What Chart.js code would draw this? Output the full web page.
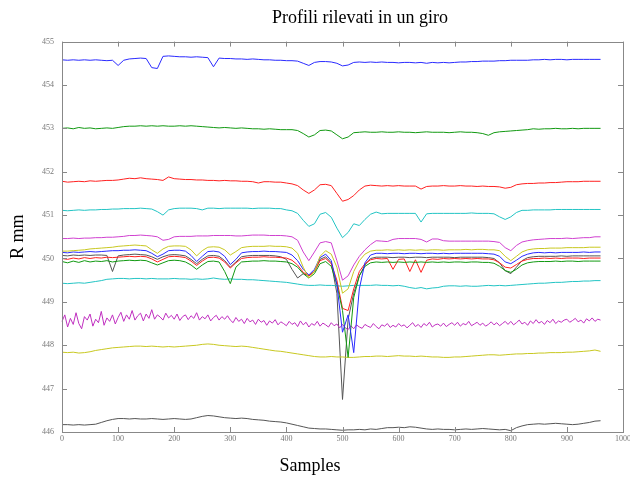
<!DOCTYPE html>
<html><head><meta charset="utf-8">
<script src="https://cdn.jsdelivr.net/npm/chart.js@4/dist/chart.umd.min.js"></script>
<style>html,body{margin:0;padding:0;background:#fff;}#wrap{width:630px;height:479px;}</style>
</head><body><div id="wrap"><canvas id="c" width="630" height="479"></canvas></div>
<script>
const samples = [0,10,20,30,40,50,60,70,80,90,100,110,120,130,140,150,160,170,180,190,200,210,220,230,240,250,260,270,280,290,300,310,320,330,340,350,360,370,380,390,400,410,420,430,440,450,460,470,480,490,500,510,520,530,540,550,560,570,580,590,600,610,620,630,640,650,660,670,680,690,700,710,720,730,740,750,760,770,780,790,800,810,820,830,840,850,860,870,880,890,900,910,920,930,940,950,960];

const samplesFine = [0,5,10,15,20,25,30,35,40,45,50,55,60,65,70,75,80,85,90,95,100,105,110,115,120,125,130,135,140,145,150,155,160,165,170,175,180,185,190,195,200,205,210,215,220,225,230,235,240,245,250,255,260,265,270,275,280,285,290,295,300,305,310,315,320,325,330,335,340,345,350,355,360,365,370,375,380,385,390,395,400,405,410,415,420,425,430,435,440,445,450,455,460,465,470,475,480,485,490,495,500,505,510,515,520,525,530,535,540,545,550,555,560,565,570,575,580,585,590,595,600,605,610,615,620,625,630,635,640,645,650,655,660,665,670,675,680,685,690,695,700,705,710,715,720,725,730,735,740,745,750,755,760,765,770,775,780,785,790,795,800,805,810,815,820,825,830,835,840,845,850,855,860,865,870,875,880,885,890,895,900,905,910,915,920,925,930,935,940,945,950,955,960];

const xTicks = [0,100,200,300,400,500,600,700,800,900,1000];
const yTicks = [446,447,448,449,450,451,452,453,454,455];

const blueTop = [454.58,454.57,454.58,454.57,454.58,454.57,454.58,454.57,454.56,454.57,454.45,454.57,454.60,454.61,454.62,454.61,454.40,454.38,454.66,454.67,454.66,454.65,454.65,454.64,454.65,454.64,454.63,454.42,454.62,454.61,454.61,454.60,454.60,454.59,454.60,454.59,454.58,454.58,454.57,454.57,454.56,454.56,454.55,454.50,454.45,454.52,454.54,454.54,454.53,454.50,454.44,454.46,454.52,454.53,454.52,454.53,454.52,454.53,454.52,454.52,454.51,454.52,454.52,454.51,454.52,454.50,454.52,454.51,454.52,454.51,454.52,454.53,454.53,454.54,454.54,454.55,454.55,454.55,454.56,454.56,454.57,454.57,454.57,454.57,454.58,454.58,454.59,454.58,454.59,454.59,454.58,454.59,454.59,454.59,454.59,454.59,454.59];

const greenTop = [453.00,453.01,452.99,453.02,453.00,453.01,452.99,453.00,453.01,453.00,453.02,453.04,453.05,453.05,453.06,453.05,453.06,453.05,453.06,453.05,453.05,453.06,453.05,453.06,453.05,453.04,453.03,453.02,453.01,453.02,453.01,453.00,453.01,453.00,452.99,452.99,452.98,452.99,452.98,452.97,452.97,452.97,452.95,452.88,452.80,452.85,452.95,452.96,452.94,452.85,452.76,452.80,452.90,452.91,452.92,452.91,452.91,452.92,452.91,452.91,452.92,452.91,452.91,452.90,452.91,452.92,452.91,452.91,452.91,452.90,452.91,452.92,452.91,452.91,452.90,452.88,452.84,452.90,452.92,452.93,452.94,452.95,452.96,452.97,452.99,452.98,452.99,452.99,453.00,452.99,452.99,453.00,452.99,453.00,453.00,453.00,453.00];

const redTop = [451.78,451.76,451.77,451.78,451.77,451.79,451.78,451.79,451.80,451.80,451.81,451.83,451.85,451.84,451.86,451.84,451.83,451.82,451.80,451.88,451.84,451.83,451.82,451.82,451.81,451.81,451.80,451.80,451.79,451.80,451.79,451.79,451.78,451.78,451.77,451.74,451.77,451.77,451.76,451.76,451.74,451.72,451.68,451.58,451.50,451.58,451.70,451.71,451.68,451.50,451.32,451.36,451.45,451.58,451.67,451.69,451.68,451.67,451.68,451.67,451.68,451.67,451.67,451.67,451.60,451.66,451.67,451.67,451.68,451.67,451.67,451.68,451.67,451.67,451.66,451.67,451.66,451.66,451.65,451.62,451.64,451.70,451.72,451.73,451.73,451.74,451.74,451.75,451.75,451.76,451.77,451.77,451.77,451.78,451.78,451.78,451.78];

const cyanTop = [451.11,451.10,451.11,451.12,451.11,451.12,451.12,451.13,451.13,451.14,451.14,451.15,451.15,451.15,451.16,451.15,451.14,451.08,451.00,451.12,451.15,451.16,451.16,451.16,451.15,451.12,451.16,451.16,451.15,451.16,451.16,451.16,451.16,451.16,451.15,451.16,451.16,451.16,451.15,451.15,451.12,451.10,451.04,450.88,450.74,450.80,451.02,451.06,450.95,450.70,450.48,450.60,450.80,450.76,450.90,451.02,451.07,451.03,451.04,451.04,451.04,451.04,451.04,451.04,450.84,451.03,451.04,451.04,451.04,451.04,451.04,451.04,451.04,451.05,451.04,451.04,451.04,451.03,450.96,450.90,450.96,451.06,451.11,451.11,451.12,451.12,451.12,451.12,451.13,451.13,451.13,451.13,451.13,451.13,451.13,451.13,451.13];

const magentaTop = [450.46,450.46,450.47,450.46,450.47,450.47,450.48,450.48,450.49,450.49,450.50,450.51,450.53,450.53,450.54,450.53,450.52,450.50,450.42,450.44,450.50,450.51,450.51,450.51,450.52,450.52,450.52,450.53,450.53,450.53,450.53,450.52,450.52,450.53,450.54,450.54,450.54,450.53,450.53,450.53,450.52,450.50,450.42,450.15,449.95,450.15,450.36,450.39,450.36,449.95,449.50,449.60,449.85,450.05,450.20,450.32,450.41,450.40,450.39,450.44,450.46,450.46,450.46,450.46,450.44,450.38,450.45,450.45,450.41,450.40,450.40,450.40,450.40,450.40,450.40,450.40,450.40,450.39,450.37,450.25,450.18,450.30,450.38,450.41,450.43,450.44,450.45,450.46,450.46,450.46,450.47,450.46,450.47,450.48,450.48,450.50,450.50];

const yellowMid = [450.17,450.17,450.18,450.19,450.20,450.22,450.23,450.24,450.25,450.26,450.28,450.29,450.30,450.31,450.30,450.29,450.20,450.12,450.22,450.28,450.29,450.29,450.28,450.20,450.06,450.18,450.26,450.27,450.26,450.20,450.08,450.16,450.25,450.27,450.28,450.28,450.28,450.29,450.28,450.28,450.27,450.24,450.12,449.80,449.55,449.70,450.05,450.18,450.10,449.80,449.20,449.30,449.70,449.95,450.10,450.17,450.19,450.19,450.20,450.19,450.20,450.19,450.20,450.19,450.20,450.19,450.20,450.20,450.19,450.20,450.20,450.20,450.21,450.20,450.21,450.21,450.20,450.20,450.18,450.05,449.95,450.05,450.15,450.20,450.22,450.23,450.23,450.24,450.24,450.24,450.25,450.25,450.25,450.25,450.26,450.26,450.26];

const blueMid = [450.14,450.13,450.15,450.14,450.15,450.16,450.15,450.16,450.17,450.18,450.18,450.19,450.19,450.20,450.19,450.18,450.12,450.04,450.10,450.18,450.19,450.19,450.17,450.07,449.93,450.05,450.16,450.17,450.15,450.05,449.86,449.98,450.13,450.15,450.16,450.16,450.17,450.16,450.16,450.15,450.14,450.08,449.95,449.75,449.62,449.75,450.02,450.10,449.95,449.40,448.30,448.70,447.83,449.30,449.90,450.08,450.12,450.12,450.11,450.12,450.12,450.11,450.12,450.12,450.11,450.12,450.12,450.11,450.12,450.11,450.12,450.12,450.12,450.12,450.12,450.12,450.11,450.10,450.05,449.92,449.88,449.96,450.05,450.10,450.13,450.14,450.13,450.14,450.13,450.14,450.14,450.14,450.14,450.15,450.14,450.15,450.15];

const blackMid = [450.07,450.06,450.08,450.07,450.08,450.07,450.08,450.08,450.07,449.70,450.06,450.08,450.09,450.10,450.09,450.08,450.04,449.98,450.04,450.08,450.09,450.08,450.06,449.98,449.88,449.98,450.06,450.07,450.05,449.95,449.80,449.92,450.04,450.06,450.07,450.07,450.07,450.07,450.06,450.04,449.98,449.75,449.55,449.65,449.60,449.70,449.98,450.04,449.90,449.20,446.75,448.60,449.20,449.60,449.85,450.00,450.03,450.03,450.03,450.02,450.03,450.03,450.02,450.03,450.03,450.02,450.03,450.03,450.03,450.03,450.02,450.03,450.03,450.03,450.03,450.03,450.02,450.00,449.90,449.72,449.65,449.80,449.95,450.02,450.04,450.05,450.05,450.05,450.05,450.06,450.05,450.06,450.06,450.06,450.06,450.06,450.06];

const redMid = [450.00,449.98,450.01,449.99,450.02,450.00,450.02,450.01,450.03,450.02,450.03,450.04,450.05,450.04,450.05,450.04,449.99,449.92,449.98,450.04,450.05,450.04,450.02,449.94,449.84,449.94,450.02,450.03,450.01,449.92,449.78,449.90,450.00,450.02,450.03,450.03,450.04,450.03,450.03,450.02,450.01,449.96,449.85,449.68,449.60,449.70,449.95,450.00,449.88,449.50,448.85,448.80,449.30,449.70,449.88,449.97,450.00,449.99,450.00,449.75,449.98,449.99,449.70,449.97,449.68,449.96,449.99,449.98,450.00,449.99,450.00,449.99,450.00,449.99,450.00,449.99,449.99,449.97,449.90,449.80,449.78,449.86,449.94,449.98,450.00,450.00,450.01,450.00,450.01,450.00,450.01,450.01,450.01,450.00,450.01,450.01,450.01];

const greenMid = [449.93,449.90,449.94,449.91,449.95,449.92,449.94,449.93,449.95,449.92,449.94,449.95,449.96,449.95,449.96,449.95,449.90,449.85,449.90,449.95,449.96,449.95,449.92,449.85,449.75,449.85,449.93,449.94,449.92,449.70,449.42,449.80,449.92,449.93,449.94,449.94,449.95,449.94,449.94,449.93,449.92,449.88,449.80,449.65,449.55,449.65,449.88,449.93,449.82,449.40,448.80,447.72,449.10,449.60,449.82,449.90,449.92,449.91,449.92,449.91,449.92,449.91,449.92,449.91,449.92,449.91,449.92,449.91,449.92,449.91,449.92,449.92,449.91,449.92,449.92,449.91,449.91,449.89,449.82,449.72,449.68,449.75,449.85,449.90,449.92,449.93,449.93,449.93,449.94,449.93,449.94,449.94,449.93,449.94,449.94,449.94,449.94];

const cyanLow = [449.43,449.42,449.43,449.44,449.43,449.45,449.47,449.49,449.52,449.53,449.54,449.54,449.53,449.54,449.54,449.53,449.54,449.53,449.53,449.53,449.54,449.53,449.53,449.52,449.53,449.52,449.53,449.55,449.53,449.52,449.53,449.52,449.52,449.51,449.51,449.50,449.49,449.48,449.47,449.46,449.45,449.43,449.41,449.39,449.38,449.38,449.39,449.38,449.38,449.37,449.36,449.37,449.38,449.38,449.38,449.38,449.39,449.38,449.38,449.37,449.38,449.36,449.33,449.31,449.33,449.30,449.32,449.33,449.36,449.37,449.37,449.36,449.37,449.36,449.36,449.37,449.38,449.37,449.38,449.37,449.38,449.39,449.40,449.41,449.42,449.43,449.43,449.44,449.45,449.45,449.46,449.47,449.47,449.48,449.48,449.49,449.49];

const magentaLow = [448.55,448.70,448.42,448.62,448.48,448.75,448.50,448.38,448.66,448.58,448.72,448.44,448.60,448.52,448.78,448.46,448.63,448.55,448.70,448.49,
448.64,448.76,448.55,448.70,448.60,448.80,448.58,448.68,448.74,448.56,448.72,448.62,448.82,448.60,448.70,448.65,448.58,448.74,448.63,448.69,
448.60,448.72,448.57,448.66,448.70,448.59,448.68,448.62,448.75,448.58,448.66,448.61,448.70,448.56,448.64,448.69,448.58,448.66,448.60,448.68,
448.58,448.52,448.64,448.55,448.60,448.50,448.62,448.54,448.58,448.48,448.60,448.53,448.57,448.46,448.56,448.51,448.59,448.47,448.54,448.50,
448.45,448.55,448.48,448.52,448.43,448.56,448.47,448.53,448.42,448.50,448.46,448.55,448.44,448.51,448.47,448.42,448.52,448.45,448.49,448.40,
448.48,448.40,448.36,448.45,448.38,448.47,448.42,448.39,448.48,448.44,448.41,448.50,448.43,448.38,448.47,448.44,448.50,448.41,448.46,448.42,
448.50,448.44,448.47,448.40,448.46,448.52,448.43,448.48,448.41,448.50,448.45,448.53,448.42,448.47,448.49,448.44,448.51,448.43,448.48,448.52,
448.46,448.53,448.44,448.50,448.47,448.55,448.45,448.49,448.53,448.46,448.51,448.44,448.48,448.54,448.47,448.52,448.45,448.50,448.55,448.48,
448.55,448.47,448.52,448.58,448.49,448.53,448.46,448.56,448.50,448.59,448.51,448.55,448.48,448.57,448.52,448.60,448.50,448.56,448.53,448.58,
448.60,448.53,448.57,448.62,448.54,448.58,448.51,448.61,448.56,448.63,448.55,448.60,448.58];

const yellowLow = [447.84,447.83,447.84,447.82,447.83,447.85,447.88,447.90,447.92,447.94,447.95,447.96,447.97,447.98,447.98,447.97,447.98,447.97,447.96,447.97,447.96,447.97,447.98,447.99,448.00,448.02,448.03,448.02,448.00,447.99,447.98,447.97,447.98,447.97,447.95,447.93,447.91,447.89,447.87,447.86,447.84,447.82,447.80,447.78,447.76,447.74,447.73,447.73,447.74,447.73,447.73,447.72,447.72,447.73,447.74,447.74,447.75,447.75,447.74,447.75,447.76,447.75,447.75,447.74,447.75,447.74,447.73,447.73,447.72,447.72,447.73,447.73,447.74,447.75,447.76,447.77,447.78,447.78,447.77,447.78,447.79,447.80,447.80,447.81,447.81,447.82,447.82,447.83,447.83,447.83,447.84,447.84,447.85,447.86,447.87,447.89,447.86];

const blackLow = [446.17,446.17,446.16,446.17,446.16,446.17,446.18,446.22,446.26,446.29,446.31,446.31,446.30,446.31,446.30,446.30,446.31,446.30,446.29,446.30,446.31,446.30,446.29,446.30,446.33,446.36,446.38,446.37,446.35,446.33,446.32,446.31,446.32,446.31,446.29,446.28,446.27,446.25,446.24,446.23,446.21,446.18,446.15,446.12,446.09,446.08,446.07,446.07,446.06,446.05,446.04,446.05,446.05,446.06,446.05,446.07,446.06,446.08,446.10,446.10,446.11,446.10,446.12,446.11,446.09,446.07,446.06,446.07,446.06,446.06,446.05,446.06,446.07,446.06,446.07,446.08,446.07,446.06,446.05,446.06,446.03,446.10,446.14,446.17,446.18,446.19,446.18,446.19,446.20,446.19,446.18,446.17,446.18,446.20,446.22,446.25,446.26];

const seriesList = [
  [samples, blueTop, '#2a2aff'], [samples, greenTop, '#119911'], [samples, redTop, '#ff2020'], [samples, cyanTop, '#22c4c4'],
  [samples, magentaTop, '#d040d0'], [samples, yellowMid, '#c8c820'], [samples, blackLow, '#555555'],
  [samples, blueMid, '#2a2aff'], [samples, greenMid, '#119911'], [samples, redMid, '#ff2020'], [samples, cyanLow, '#22c4c4'],
  [samplesFine, magentaLow, '#c030c0'], [samples, yellowLow, '#c8c820'], [samples, blackMid, '#555555']
];

const datasets = seriesList.map(([xs, vals, col]) => ({
  data: xs.map((s, i) => ({x: s, y: vals[i]})),
  borderColor: col, borderWidth: 1, pointRadius: 0, fill: false, tension: 0
}));

const frameTicks = {
  id: 'frameTicks',
  afterLayout(chart) {
    // shift title and x-axis title horizontally as in the reference
    if (chart.titleBlock) { chart.titleBlock.left = 90; chart.titleBlock.right = 630; }
    const xs = chart.scales.x;
    xs.left = 0; xs.right = 620;
  },
  afterDraw(chart) {
    const {ctx, chartArea: a, scales} = chart;
    ctx.save();
    ctx.strokeStyle = '#888';
    ctx.lineWidth = 1;
    ctx.strokeRect(Math.round(a.left) + 0.5, Math.round(a.top) + 0.5, Math.round(a.right - a.left), Math.round(a.bottom - a.top));
    ctx.beginPath();
    scales.x.ticks.forEach(t => {
      const px = Math.round(scales.x.getPixelForValue(t.value)) + 0.5;
      ctx.moveTo(px, a.bottom); ctx.lineTo(px, a.bottom - 5);
      ctx.moveTo(px, a.top); ctx.lineTo(px, a.top + 5);
    });
    scales.y.ticks.forEach(t => {
      const py = Math.round(scales.y.getPixelForValue(t.value)) + 0.5;
      ctx.moveTo(a.left, py); ctx.lineTo(a.left + 5, py);
      ctx.moveTo(a.right, py); ctx.lineTo(a.right - 5, py);
    });
    ctx.stroke();
    ctx.restore();
  }
};

new Chart(document.getElementById('c'), {
  type: 'line',
  data: { datasets },
  options: {
    responsive: false, animation: false, devicePixelRatio: 1,
    layout: { padding: { left: 0, right: 7, top: 0, bottom: 0 } },
    plugins: {
      legend: { display: false }, tooltip: { enabled: false },
      title: { display: true, text: 'Profili rilevati in un giro', color: '#000',
        font: { family: 'Liberation Serif', size: 18, weight: 'normal' }, padding: { top: 7, bottom: 13 } }
    },
    scales: {
      x: {
        type: 'linear', min: 0, max: 1000,
        afterBuildTicks: s => { s.ticks = xTicks.map(v => ({value: v})); },
        afterFit: s => { s.height = 47; s.paddingLeft = 0; s.paddingRight = 0; },
        grid: { display: false, drawTicks: false },
        border: { display: false },
        ticks: { color: '#777', font: { family: 'Liberation Serif', size: 8 }, padding: 2, maxRotation: 0, autoSkip: false,
          callback: v => String(v) },
        title: { display: true, text: 'Samples', color: '#000', font: { family: 'Liberation Serif', size: 18 }, padding: { top: 0, bottom: 2 } }
      },
      y: {
        min: 446, max: 455,
        afterBuildTicks: s => { s.ticks = yTicks.map(v => ({value: v})); },
        afterFit: s => { s.width = 62; s.paddingTop = 0; s.paddingBottom = 0; },
        grid: { display: false, drawTicks: false },
        border: { display: false },
        ticks: { color: '#777', font: { family: 'Liberation Serif', size: 8 }, padding: 8, autoSkip: false,
          callback: v => String(v) },
        title: { display: true, text: 'R mm', color: '#000', font: { family: 'Liberation Serif', size: 18 }, padding: { top: 7, bottom: 0 } }
      }
    }
  },
  plugins: [frameTicks]
});
</script>
</body></html>
